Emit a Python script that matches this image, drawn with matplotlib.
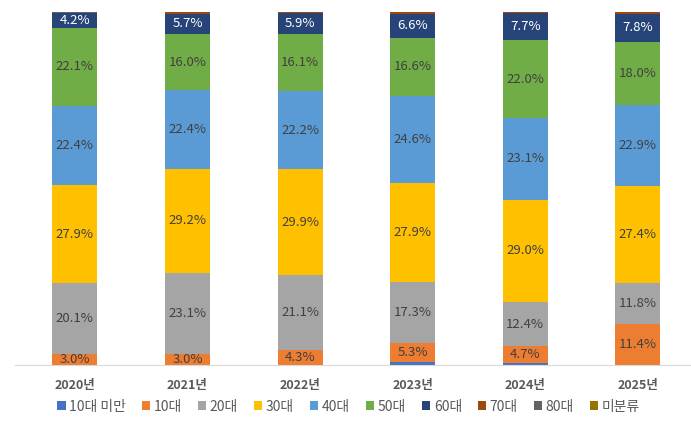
import matplotlib.pyplot as plt
import numpy as np

plt.rcParams['font.family'] = 'Noto Sans CJK KR'

YEARS = ['2020년', '2021년', '2022년', '2023년', '2024년', '2025년']
GROUPS = ['10대 미만', '10대', '20대', '30대', '40대', '50대', '60대', '70대', '80대', '미분류']
COLORS = ['#4472C4', '#ED7D31', '#A5A5A5', '#FFC000', '#5B9BD5', '#70AD47',
          '#264478', '#9E480E', '#636363', '#997300']

# share (%) per age group, one list per group, bottom to top
VALUES = {
    '10대 미만': [0.0, 0.1, 0.1, 1.0, 0.7, 0.1],
    '10대':     [3.0, 3.0, 4.3, 5.3, 4.7, 11.4],
    '20대':     [20.1, 23.1, 21.1, 17.3, 12.4, 11.8],
    '30대':     [27.9, 29.2, 29.9, 27.9, 29.0, 27.4],
    '40대':     [22.4, 22.4, 22.2, 24.6, 23.1, 22.9],
    '50대':     [22.1, 16.0, 16.1, 16.6, 22.0, 18.0],
    '60대':     [4.2, 5.7, 5.9, 6.6, 7.7, 7.8],
    '70대':     [0.1, 0.4, 0.3, 0.6, 0.3, 0.5],
    '80대':     [0.1, 0.1, 0.1, 0.1, 0.1, 0.1],
    '미분류':   [0.1, 0.0, 0.0, 0.0, 0.0, 0.0],
}
LABELED = ['10대', '20대', '30대', '40대', '50대', '60대']

fig = plt.figure(figsize=(6.91, 4.24), dpi=100)
ax = fig.add_axes([0.022, 0.139, 0.976, 0.833])

x = np.arange(len(YEARS))
bottom = np.zeros(len(YEARS))
handles = []
for g, c in zip(GROUPS, COLORS):
    vals = np.array(VALUES[g])
    bars = ax.bar(x, vals, 0.4, bottom=bottom, color=c, label=g)
    handles.append(bars)
    if g in LABELED:
        tc = 'white' if g == '60대' else '#404040'
        for xi, b, v in zip(x, bottom, vals):
            yy = b + v / 2 if v > 4 else b + 1.6
            ax.text(xi, yy, f'{v:.1f}%', ha='center', va='center',
                    fontsize=9.5, color=tc)
    bottom += vals

ax.set_xlim(-0.53, 5.46)
ax.set_ylim(0, 100)
ax.set_yticks([])
ax.set_xticks(x)
ax.set_xticklabels(YEARS, fontsize=9, color='#595959', fontweight='bold')
ax.tick_params(axis='x', length=0, pad=10)
for s in ['top', 'right', 'left']:
    ax.spines[s].set_visible(False)
ax.spines['bottom'].set_color('#D9D9D9')

fig.legend(handles, GROUPS, loc='lower left', bbox_to_anchor=(0.065, -0.005),
           ncol=10, frameon=False, fontsize=10, handlelength=0.6,
           handleheight=0.6, handletextpad=0.25, columnspacing=1.15,
           labelcolor='#595959')

fig.savefig('out.png', dpi=100)
